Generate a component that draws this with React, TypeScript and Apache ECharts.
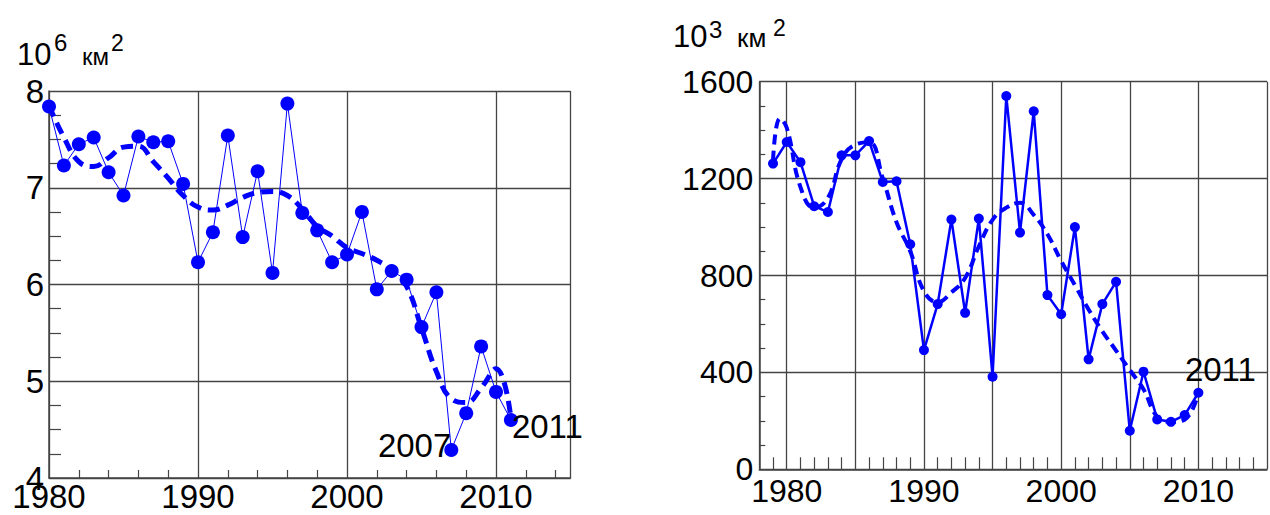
import React, { useEffect, useRef } from "react";
import * as echarts from "echarts";

// ---------- Left chart (10^6 km^2) ----------
const leftYears = [
  1980, 1981, 1982, 1983, 1984, 1985, 1986, 1987, 1988, 1989,
  1990, 1991, 1992, 1993, 1994, 1995, 1996, 1997, 1998, 1999,
  2000, 2001, 2002, 2003, 2004, 2005, 2006, 2007, 2008, 2009,
  2010, 2011,
];
const leftValues = [
  7.84, 7.23, 7.45, 7.52, 7.16, 6.92, 7.53, 7.47, 7.48, 7.04,
  6.23, 6.54, 7.54, 6.49, 7.17, 6.12, 7.87, 6.74, 6.56, 6.23,
  6.31, 6.75, 5.95, 6.14, 6.05, 5.56, 5.92, 4.29, 4.67, 5.36,
  4.89, 4.6,
];
const leftTrend = [
  7.85, 7.52, 7.27, 7.22, 7.31, 7.42, 7.43, 7.27, 7.1, 6.92,
  6.8, 6.77, 6.82, 6.9, 6.95, 6.96, 6.92, 6.78, 6.6, 6.5,
  6.38, 6.32, 6.25, 6.15, 5.98, 5.55, 5.1, 4.82, 4.78, 4.93,
  5.13, 4.62,
];
const leftLabeledYears = [2007, 2011];

// ---------- Right chart (10^3 km^2) ----------
const rightYears = [
  1979, 1980, 1981, 1982, 1983, 1984, 1985, 1986, 1987, 1988,
  1989, 1990, 1991, 1992, 1993, 1994, 1995, 1996, 1997, 1998,
  1999, 2000, 2001, 2002, 2003, 2004, 2005, 2006, 2007, 2008,
  2009, 2010,
];
const rightValues = [
  1262, 1351, 1268, 1086, 1062, 1296, 1296, 1355, 1186, 1189,
  929, 492, 682, 1031, 646, 1035, 382, 1541, 977, 1478,
  719, 640, 1000, 454, 682, 774, 159, 403, 206, 196,
  224, 316,
];
const rightTrendYears = [
  1979, 1979.5, 1980, 1981, 1982, 1983, 1984, 1985, 1986, 1987,
  1988, 1989, 1990, 1991, 1992, 1993, 1994, 1995, 1996, 1997,
  1998, 1999, 2000, 2001, 2002, 2003, 2004, 2005, 2006, 2007,
  2008, 2009, 2010,
];
const rightTrend = [
  1275, 1448, 1410, 1165, 1080, 1120, 1280, 1340, 1350, 1200,
  1020, 900, 735, 690, 730, 790, 920, 1030, 1080, 1100,
  1050, 970, 860, 760, 660, 570, 490, 410, 330, 217,
  196, 205, 316,
];
const rightLabeledYear = 2010;
const rightLabelText = "2011";

const BLUE = "#0000ff";
const GRID = "#444444";
const FONT = '"Liberation Sans", Arial, Helvetica, sans-serif';

function axisCommon(extra: any) {
  return {
    type: "value",
    axisLine: { show: true, lineStyle: { color: GRID, width: 1.5 } },
    axisTick: { show: true, inside: true, length: 4, lineStyle: { color: GRID } },
    splitLine: { show: true, lineStyle: { color: GRID, width: 1.3 } },
    ...extra,
  };
}

function txt(text: string, x: number, size: number, baseline: number) {
  return {
    type: "text",
    x,
    y: baseline - 0.3 * size,
    style: {
      text,
      fill: "#000",
      fontSize: size,
      fontFamily: FONT,
      align: "left",
      verticalAlign: "middle",
      textAlign: "left",
      textVerticalAlign: "middle",
    },
  };
}

export default function App() {
  const ref = useRef<HTMLDivElement>(null);

  useEffect(() => {
    if (!ref.current) return;
    const chart = echarts.init(ref.current, undefined, { renderer: "svg" });

    const leftData = leftYears.map((y, i) => {
      const item: any = { value: [y, leftValues[i]] };
      if (leftLabeledYears.includes(y)) {
        item.label =
          y === 2007
            ? { show: true, position: "left", distance: 0, offset: [7, -4], formatter: String(y) }
            : { show: true, position: "right", distance: 0, offset: [-6, 7], formatter: String(y) };
      }
      return item;
    });

    const rightData = rightYears.map((y, i) => {
      const item: any = { value: [y, rightValues[i]] };
      if (y === rightLabeledYear) {
        item.label = { show: true, position: "top", distance: 2, offset: [22, 0], formatter: rightLabelText };
      }
      return item;
    });

    const labelStyle = { color: "#000", fontSize: 33, fontFamily: FONT };

    const option: any = {
      animation: false,
      backgroundColor: "#ffffff",
      grid: [
        { left: 49, top: 91, right: 699.5, bottom: 37, containLabel: false },
        { left: 759.3, top: 81.7, right: -7.3, bottom: 45.7, containLabel: false },
      ],
      xAxis: [
        axisCommon({
          gridIndex: 0,
          min: 1980,
          max: 2015,
          interval: 10,
          minorTick: { show: true, splitNumber: 5, length: 8, lineStyle: { color: GRID, width: 1.2 } },
          axisLabel: {
            color: "#000",
            fontSize: 33,
            fontFamily: FONT,
            margin: 2,
            showMaxLabel: false,
            formatter: (v: number) => String(v),
          },
        }),
        axisCommon({
          gridIndex: 1,
          min: 1978,
          max: 2015,
          minInterval: 5,
          maxInterval: 5,
          splitNumber: 7,
          minorTick: { show: true, splitNumber: 5, length: 12, lineStyle: { color: GRID, width: 1.2 } },
          axisLabel: {
            color: "#000",
            fontSize: 32,
            fontFamily: FONT,
            margin: 6,
            showMinLabel: false,
            formatter: (v: number) => (v % 10 === 0 ? String(v) : ""),
          },
        }),
      ],
      yAxis: [
        axisCommon({
          gridIndex: 0,
          min: 4,
          max: 8,
          interval: 1,
          minorTick: { show: true, splitNumber: 4, length: 12, lineStyle: { color: GRID, width: 1.2 } },
          axisLabel: { color: "#000", fontSize: 33, fontFamily: FONT, margin: 5, formatter: (v: number) => String(v) },
        }),
        axisCommon({
          gridIndex: 1,
          min: 0,
          max: 1600,
          interval: 400,
          minorTick: { show: true, splitNumber: 4, length: 6, lineStyle: { color: GRID, width: 1.2 } },
          axisLabel: { color: "#000", fontSize: 32, fontFamily: FONT, margin: 6, formatter: (v: number) => String(v) },
        }),
      ],
      graphic: [
        txt("10", 17, 31, 64),
        txt("6", 54, 24, 50),
        txt("км", 82, 24, 64),
        txt("2", 111, 23, 50),
        txt("10", 673, 31, 46),
        txt("3", 709, 24, 37),
        txt("км", 737, 26, 46),
        txt("2", 773, 23, 35),
      ],
      series: [
        {
          type: "line",
          xAxisIndex: 0,
          yAxisIndex: 0,
          data: leftTrend.map((v, i) => [leftYears[i], v]),
          smooth: 0.45,
          symbol: "none",
          lineStyle: { color: BLUE, width: 5, type: [12, 7] },
          z: 2,
        },
        {
          type: "line",
          xAxisIndex: 0,
          yAxisIndex: 0,
          data: leftData,
          symbol: "circle",
          symbolSize: 14,
          itemStyle: { color: BLUE },
          lineStyle: { color: BLUE, width: 1 },
          label: labelStyle,
          z: 3,
        },
        {
          type: "line",
          xAxisIndex: 1,
          yAxisIndex: 1,
          data: rightTrend.map((v, i) => [rightTrendYears[i], v]),
          smooth: 0.45,
          symbol: "none",
          lineStyle: { color: BLUE, width: 4, type: [10, 6] },
          z: 2,
        },
        {
          type: "line",
          xAxisIndex: 1,
          yAxisIndex: 1,
          data: rightData,
          symbol: "circle",
          symbolSize: 10,
          itemStyle: { color: BLUE },
          lineStyle: { color: BLUE, width: 2.5 },
          label: labelStyle,
          z: 3,
        },
      ],
    };

    chart.setOption(option);
    return () => chart.dispose();
  }, []);

  return (
    <div
      ref={ref}
      style={{ position: "fixed", left: 0, top: 0, width: 1270, height: 515, background: "#fff" }}
    />
  );
}
